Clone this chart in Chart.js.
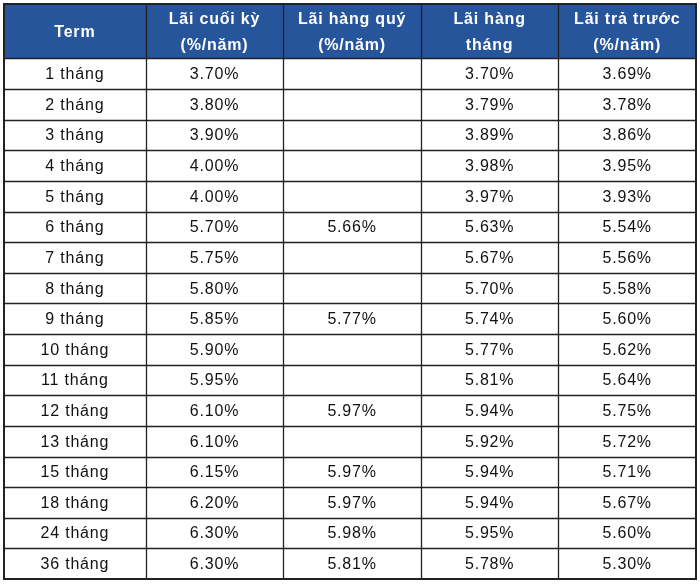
<!DOCTYPE html>
<html><head><meta charset="utf-8">
<script src="https://cdn.jsdelivr.net/npm/chart.js@4"></script>
<style>html,body{margin:0;padding:0;background:#fff}#w{width:700px;height:584px}</style>
</head><body><div id="w"><canvas id="c"></canvas></div>
<script>
const headers = [["Term"],["Lãi cuối kỳ","(%/năm)"],["Lãi hàng quý","(%/năm)"],["Lãi hàng","tháng"],["Lãi trả trước","(%/năm)"]];
const terms = ["1 tháng","2 tháng","3 tháng","4 tháng","5 tháng","6 tháng","7 tháng","8 tháng","9 tháng","10 tháng","11 tháng","12 tháng","13 tháng","15 tháng","18 tháng","24 tháng","36 tháng"];
const laiCuoiKy = [3.70,3.80,3.90,4.00,4.00,5.70,5.75,5.80,5.85,5.90,5.95,6.10,6.10,6.15,6.20,6.30,6.30];
const laiHangQuy = [null,null,null,null,null,5.66,null,null,5.77,null,null,5.97,null,5.97,5.97,5.98,5.81];
const laiHangThang = [3.70,3.79,3.89,3.98,3.97,5.63,5.67,5.70,5.74,5.77,5.81,5.94,5.92,5.94,5.94,5.95,5.78];
const laiTraTruoc = [3.69,3.78,3.86,3.95,3.93,5.54,5.56,5.58,5.60,5.62,5.64,5.75,5.72,5.71,5.67,5.60,5.30];
const colBounds = [0,1.03,2.03,3.03,4.03,5.03];
const headerH = 1.78;
const series = [laiCuoiKy,laiHangQuy,laiHangThang,laiTraTruoc];
const fmt = v => v==null ? "" : v.toFixed(2)+"%";
const FONT = '"Liberation Sans", Arial, sans-serif';

const tablePlugin = {
  id:'table',
  afterDraw(chart){
    const ctx = chart.ctx, xs = chart.scales.x, ys = chart.scales.y;
    const X = v => xs.getPixelForValue(v), Y = v => ys.getPixelForValue(v);
    const rowTop = r => r===0 ? 0 : headerH + (r-1);
    const nRows = terms.length;
    ctx.save();
    ctx.fillStyle = '#27559c';
    ctx.fillRect(X(0), Y(0), X(colBounds[5])-X(0), Y(headerH)-Y(0));
    ctx.textAlign='center'; ctx.textBaseline='middle';
    ctx.letterSpacing='0.8px';
    headers.forEach((h,i)=>{
      const cx=(X(colBounds[i])+X(colBounds[i+1]))/2, cy=(Y(0)+Y(headerH))/2;
      ctx.fillStyle='#fff'; ctx.font='bold 16px '+FONT;
      if(h.length===1) ctx.fillText(h[0],cx,cy+1);
      else { ctx.fillText(h[0],cx,cy-12); ctx.fillText(h[1],cx,cy+14); }
    });
    ctx.fillStyle='#111'; ctx.font='16px '+FONT;
    for(let r=0;r<nRows;r++){
      const cy=(Y(rowTop(r+1))+Y(rowTop(r+2)))/2+1;
      const vals=[terms[r],...series.map(s=>fmt(s[r]))];
      vals.forEach((t,i)=>{ const cx=(X(colBounds[i])+X(colBounds[i+1]))/2; ctx.fillText(t,cx,cy); });
    }
    ctx.strokeStyle='#222'; ctx.lineWidth=1.3;
    for(let r=1;r<=nRows;r++){ const y=Math.round(Y(rowTop(r)))+0.5; ctx.beginPath(); ctx.moveTo(X(0),y); ctx.lineTo(X(colBounds[5]),y); ctx.stroke(); }
    for(let i=1;i<5;i++){ const x=Math.round(X(colBounds[i]))+0.5; ctx.beginPath(); ctx.moveTo(x,Y(0)); ctx.lineTo(x,Y(rowTop(nRows+1))); ctx.stroke(); }
    ctx.lineWidth=2;
    ctx.strokeRect(X(0),Y(0),X(colBounds[5])-X(0),Y(rowTop(nRows+1))-Y(0));
    ctx.restore();
  }
};

new Chart(document.getElementById('c'),{
  type:'scatter',
  data:{datasets:[{data:[],pointRadius:0}]},
  options:{
    responsive:true, maintainAspectRatio:false, animation:false,
    layout:{padding:{left:4,right:4,top:4,bottom:5}},
    plugins:{legend:{display:false},tooltip:{enabled:false}},
    scales:{
      x:{type:'linear',min:0,max:colBounds[5],display:false},
      y:{type:'linear',min:0,max:headerH+terms.length,reverse:true,display:false}
    }
  },
  plugins:[tablePlugin]
});
</script></body></html>
